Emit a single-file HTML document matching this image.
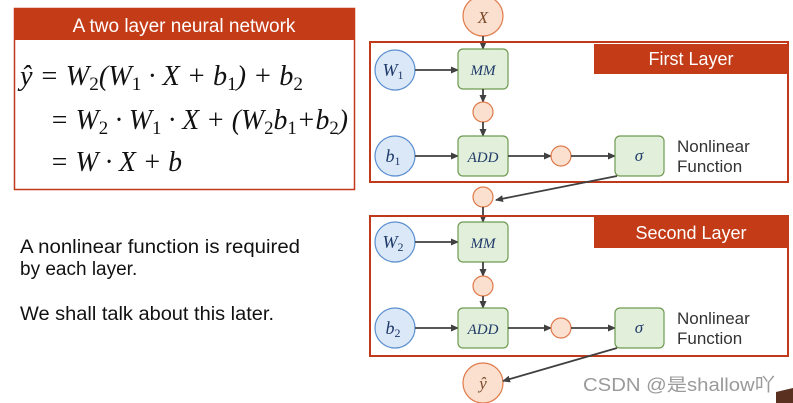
<!DOCTYPE html>
<html><head><meta charset="utf-8"><style>
html,body{margin:0;padding:0;background:#fff;}
svg{display:block;}
.s{font-family:"Liberation Sans",sans-serif;}
.m{font-family:"Liberation Serif",serif;font-style:italic;}
</style></head><body>
<svg width="793" height="403" viewBox="0 0 793 403" xmlns="http://www.w3.org/2000/svg">
<defs>
<marker id="a" markerWidth="8" markerHeight="8" refX="7" refY="4" orient="auto" markerUnits="userSpaceOnUse">
<path d="M0,0.5 L8,4 L0,7.5 z" fill="#404040"/></marker>
</defs>
<rect x="14.5" y="8.5" width="340" height="181" fill="#fff" stroke="#c0391b" stroke-width="1.5"/>
<rect x="14" y="8" width="341" height="32" fill="#c33b17"/>
<text x="184" y="32" text-anchor="middle" class="s" font-size="19" fill="#fff">A two layer neural network</text>
<g class="m" font-size="28" fill="#111">
<text x="20" y="85" textLength="283" lengthAdjust="spacingAndGlyphs">ŷ = W<tspan font-size="19" dy="5" font-style="normal">2</tspan><tspan dy="-5">(W</tspan><tspan font-size="19" dy="5" font-style="normal">1</tspan><tspan dy="-5"> · X + b</tspan><tspan font-size="19" dy="5" font-style="normal">1</tspan><tspan dy="-5">) + b</tspan><tspan font-size="19" dy="5" font-style="normal">2</tspan></text>
<text x="50" y="129" textLength="298" lengthAdjust="spacingAndGlyphs">= W<tspan font-size="19" dy="5" font-style="normal">2</tspan><tspan dy="-5"> · W</tspan><tspan font-size="19" dy="5" font-style="normal">1</tspan><tspan dy="-5"> · X + (W</tspan><tspan font-size="19" dy="5" font-style="normal">2</tspan><tspan dy="-5">b</tspan><tspan font-size="19" dy="5" font-style="normal">1</tspan><tspan dy="-5">+b</tspan><tspan font-size="19" dy="5" font-style="normal">2</tspan><tspan dy="-5">)</tspan></text>
<text x="50" y="171" textLength="132" lengthAdjust="spacingAndGlyphs">= W · X + b</text>
</g>
<g class="s" font-size="19" fill="#111">
<text x="20" y="253" textLength="280" lengthAdjust="spacingAndGlyphs">A nonlinear function is required</text>
<text x="20" y="275">by each layer.</text>
<text x="20" y="320" textLength="254" lengthAdjust="spacingAndGlyphs">We shall talk about this later.</text>
</g>

<circle cx="483" cy="16" r="20" fill="#fbe0cf" stroke="#e07a4a" stroke-width="1.2"/>
<text x="483" y="23" text-anchor="middle" class="m" font-size="17" fill="#7a4a2a">X</text>
<line x1="483" y1="36" x2="483" y2="49" stroke="#404040" stroke-width="1.8" marker-end="url(#a)"/>

<g>
<rect x="370" y="42" width="418" height="140" fill="none" stroke="#c0391b" stroke-width="2"/>
<rect x="594" y="44" width="194" height="30" fill="#c33b17"/>
<text x="691" y="65" text-anchor="middle" class="s" font-size="18" fill="#fff">First Layer</text>
<circle cx="395" cy="70" r="20" fill="#dbe8f7" stroke="#5b8fd0" stroke-width="1.2"/>
<text x="393" y="76" text-anchor="middle" class="m" font-size="18" fill="#1f3a6a">W<tspan font-size="12" dy="3" font-style="normal">1</tspan></text>
<line x1="415" y1="70" x2="458" y2="70" stroke="#404040" stroke-width="1.8" marker-end="url(#a)"/>
<rect x="458" y="49" width="50" height="40" rx="5" fill="#e2efda" stroke="#6f9a52" stroke-width="1.2"/>
<text x="483" y="75" text-anchor="middle" class="m" font-size="15" fill="#1f3a6a">MM</text>
<line x1="483" y1="89" x2="483" y2="102" stroke="#404040" stroke-width="1.8" marker-end="url(#a)"/>
<circle cx="483" cy="112" r="10" fill="#fbe0cf" stroke="#e07a4a" stroke-width="1.2"/>
<line x1="483" y1="122" x2="483" y2="136" stroke="#404040" stroke-width="1.8" marker-end="url(#a)"/>
<circle cx="395" cy="156" r="20" fill="#dbe8f7" stroke="#5b8fd0" stroke-width="1.2"/>
<text x="393" y="162" text-anchor="middle" class="m" font-size="18" fill="#1f3a6a">b<tspan font-size="12" dy="3" font-style="normal">1</tspan></text>
<line x1="415" y1="156" x2="458" y2="156" stroke="#404040" stroke-width="1.8" marker-end="url(#a)"/>
<rect x="458" y="136" width="50" height="40" rx="5" fill="#e2efda" stroke="#6f9a52" stroke-width="1.2"/>
<text x="483" y="162" text-anchor="middle" class="m" font-size="15" fill="#1f3a6a">ADD</text>
<line x1="508" y1="156" x2="551" y2="156" stroke="#404040" stroke-width="1.8" marker-end="url(#a)"/>
<circle cx="561" cy="156" r="10" fill="#fbe0cf" stroke="#e07a4a" stroke-width="1.2"/>
<line x1="571" y1="156" x2="615" y2="156" stroke="#404040" stroke-width="1.8" marker-end="url(#a)"/>
<rect x="615" y="136" width="49" height="40" rx="5" fill="#e2efda" stroke="#6f9a52" stroke-width="1.2"/>
<text x="639" y="161" text-anchor="middle" class="m" font-size="17" fill="#1f3a6a">σ</text>
<text x="677" y="152" class="s" font-size="17" fill="#333">Nonlinear</text>
<text x="677" y="172" class="s" font-size="17" fill="#333">Function</text>
</g>

<circle cx="483" cy="197" r="10" fill="#fbe0cf" stroke="#e07a4a" stroke-width="1.2"/>
<line x1="617" y1="176" x2="496" y2="200" stroke="#404040" stroke-width="1.8" marker-end="url(#a)"/>
<line x1="483" y1="207" x2="483" y2="222" stroke="#404040" stroke-width="1.8" marker-end="url(#a)"/>

<g transform="translate(0,173)">
<rect x="370" y="43" width="418" height="140" fill="none" stroke="#c0391b" stroke-width="2"/>
<rect x="594" y="43" width="194" height="32" fill="#c33b17"/>
<text x="691" y="66" text-anchor="middle" class="s" font-size="18" fill="#fff">Second Layer</text>
<circle cx="395" cy="69" r="20" fill="#dbe8f7" stroke="#5b8fd0" stroke-width="1.2"/>
<text x="393" y="75" text-anchor="middle" class="m" font-size="18" fill="#1f3a6a">W<tspan font-size="12" dy="3" font-style="normal">2</tspan></text>
<line x1="415" y1="69" x2="458" y2="69" stroke="#404040" stroke-width="1.8" marker-end="url(#a)"/>
<rect x="458" y="49" width="50" height="40" rx="5" fill="#e2efda" stroke="#6f9a52" stroke-width="1.2"/>
<text x="483" y="75" text-anchor="middle" class="m" font-size="15" fill="#1f3a6a">MM</text>
<line x1="483" y1="89" x2="483" y2="103" stroke="#404040" stroke-width="1.8" marker-end="url(#a)"/>
<circle cx="483" cy="113" r="10" fill="#fbe0cf" stroke="#e07a4a" stroke-width="1.2"/>
<line x1="483" y1="123" x2="483" y2="135" stroke="#404040" stroke-width="1.8" marker-end="url(#a)"/>
<circle cx="395" cy="155" r="20" fill="#dbe8f7" stroke="#5b8fd0" stroke-width="1.2"/>
<text x="393" y="161" text-anchor="middle" class="m" font-size="18" fill="#1f3a6a">b<tspan font-size="12" dy="3" font-style="normal">2</tspan></text>
<line x1="415" y1="155" x2="458" y2="155" stroke="#404040" stroke-width="1.8" marker-end="url(#a)"/>
<rect x="458" y="135" width="50" height="40" rx="5" fill="#e2efda" stroke="#6f9a52" stroke-width="1.2"/>
<text x="483" y="161" text-anchor="middle" class="m" font-size="15" fill="#1f3a6a">ADD</text>
<line x1="508" y1="155" x2="551" y2="155" stroke="#404040" stroke-width="1.8" marker-end="url(#a)"/>
<circle cx="561" cy="155" r="10" fill="#fbe0cf" stroke="#e07a4a" stroke-width="1.2"/>
<line x1="571" y1="155" x2="615" y2="155" stroke="#404040" stroke-width="1.8" marker-end="url(#a)"/>
<rect x="615" y="135" width="49" height="40" rx="5" fill="#e2efda" stroke="#6f9a52" stroke-width="1.2"/>
<text x="639" y="160" text-anchor="middle" class="m" font-size="17" fill="#1f3a6a">σ</text>
<text x="677" y="151" class="s" font-size="17" fill="#333">Nonlinear</text>
<text x="677" y="171" class="s" font-size="17" fill="#333">Function</text>
</g>

<circle cx="483" cy="383" r="20" fill="#fbe0cf" stroke="#e07a4a" stroke-width="1.2"/>
<text x="483" y="389" text-anchor="middle" class="m" font-size="17" fill="#7a4a2a">ŷ</text>
<line x1="617" y1="348" x2="503" y2="381" stroke="#404040" stroke-width="1.8" marker-end="url(#a)"/>

<text x="583" y="391" font-size="18" fill="#9a9a9a" textLength="192" lengthAdjust="spacingAndGlyphs" style="font-family:'Liberation Sans','Noto Sans CJK SC',sans-serif">CSDN @是shallow吖</text>
<path d="M776,403 L776,392 L793,388 L793,403 z" fill="#5a3020"/>
</svg>
</body></html>
